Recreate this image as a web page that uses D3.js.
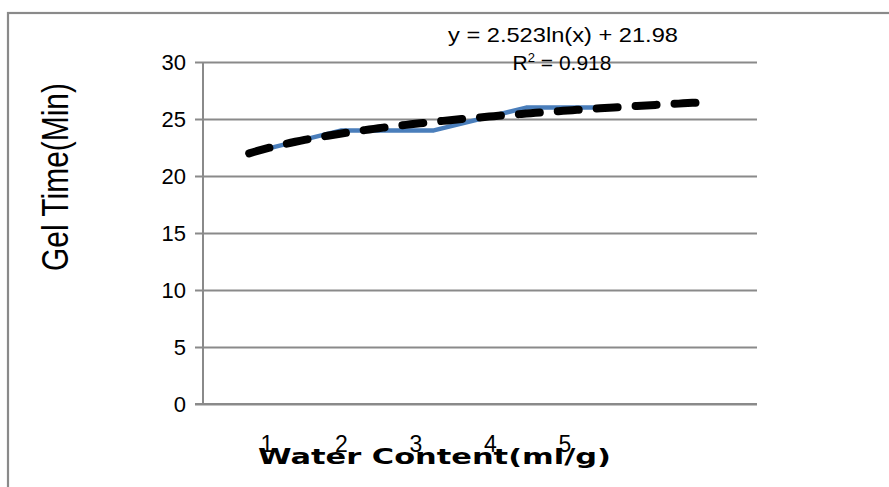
<!DOCTYPE html>
<html>
<head>
<meta charset="utf-8">
<script src="https://cdn.jsdelivr.net/npm/d3@7"></script>
<style>
  html, body { margin: 0; padding: 0; background: #fff; }
  svg { display: block; }
</style>
</head>
<body>
<svg id="chart" width="889" height="487"></svg>
<script>
// Gel time measured at each water content step
const categories = [1, 2, 3, 4, 5];
const gelTime = [22, 24, 24, 26, 26];
// Logarithmic trend line y = a ln(x) + b, forecast one step forward
const trendSlope = [2.523];
const trendIntercept = [21.98];
const trendR2 = [0.918];
const trendForward = 1;
const yTicks = [0, 5, 10, 15, 20, 25, 30];
const xTickLabels = ["1", "2", "3", "4", "5"];

const svg = d3.select("#chart");
const W = 889, H = 487;
const plot = { left: 203, right: 757, top: 62, bottom: 404 };
const gridColor = "#8a8a8a";
const font = "'Liberation Sans', Arial, sans-serif";

// outer chart frame (runs past the bottom/right edge)
svg.append("rect")
  .attr("x", 8).attr("y", 13)
  .attr("width", W + 20).attr("height", H + 20)
  .attr("fill", "none").attr("stroke", gridColor).attr("stroke-width", 2.2);

const nBands = categories.length + trendForward;
const x = d3.scaleBand()
  .domain(d3.range(1, nBands + 1))
  .range([plot.left, plot.right]);
const xc = v => x(v) + x.bandwidth() / 2;
const xCont = d3.scaleLinear().domain([1, nBands]).range([xc(1), xc(nBands)]);

const y = d3.scaleLinear().domain([0, 30]).range([plot.bottom, plot.top]);

// horizontal gridlines and y axis
const yAxis = d3.axisLeft(y).tickValues(yTicks).tickSize(-(plot.right - plot.left)).tickPadding(17);
const gy = svg.append("g").attr("transform", `translate(${plot.left},0)`).call(yAxis);
gy.select(".domain").remove();
gy.selectAll(".tick line")
  .attr("x1", -8)
  .attr("stroke", gridColor).attr("stroke-width", 2);
gy.selectAll(".tick text")
  .attr("font-family", font).attr("font-size", 22).attr("fill", "#000")
  .attr("dy", "0.36em");

// axis lines
svg.append("line")
  .attr("x1", plot.left).attr("x2", plot.left)
  .attr("y1", plot.top).attr("y2", plot.bottom)
  .attr("stroke", gridColor).attr("stroke-width", 2);
svg.append("line")
  .attr("x1", plot.left - 8).attr("x2", plot.right)
  .attr("y1", plot.bottom).attr("y2", plot.bottom)
  .attr("stroke", gridColor).attr("stroke-width", 2.2);

// data series
const line = d3.line().x((d, i) => xc(categories[i])).y(d => y(d));
svg.append("path")
  .datum(gelTime)
  .attr("d", line)
  .attr("fill", "none").attr("stroke", "#4a7ebb").attr("stroke-width", 4.5)
  .attr("stroke-linejoin", "round");

// logarithmic trend line
const trendFn = v => trendSlope[0] * Math.log(v) + trendIntercept[0];
const trendPts = d3.range(0, 101).map(i => 1 + (nBands - 1) * i / 100);
svg.append("path")
  .datum(trendPts)
  .attr("d", d3.line().x(v => xCont(v)).y(v => y(trendFn(v))))
  .attr("fill", "none").attr("stroke", "#000").attr("stroke-width", 8)
  .attr("stroke-linecap", "round")
  .attr("stroke-dasharray", "21,18");

// trend equation label
svg.append("text")
  .attr("x", 563).attr("y", 42)
  .attr("text-anchor", "middle")
  .attr("font-family", font).attr("font-size", 21)
  .attr("textLength", 230).attr("lengthAdjust", "spacingAndGlyphs")
  .text(`y = ${trendSlope[0]}ln(x) + ${trendIntercept[0]}`);
const r2 = svg.append("text")
  .attr("x", 562).attr("y", 70)
  .attr("text-anchor", "middle")
  .attr("font-family", font).attr("font-size", 21);
r2.append("tspan").text("R");
r2.append("tspan").attr("font-size", 13).attr("dy", -8).text("2");
r2.append("tspan").attr("dy", 8).text(` = ${trendR2[0]}`);

// category labels, set in the axis title row
const xl = d3.scalePoint().domain(xTickLabels).range([267, 565]);
svg.append("g").selectAll("text")
  .data(xTickLabels)
  .join("text")
  .attr("x", d => xl(d)).attr("y", 452)
  .attr("text-anchor", "middle")
  .attr("font-family", font).attr("font-size", 23)
  .text(d => d);

// axis titles
svg.append("text")
  .attr("x", 258).attr("y", 464)
  .attr("font-family", "'DejaVu Sans', sans-serif").attr("font-weight", "bold")
  .attr("font-size", 21)
  .attr("textLength", 353).attr("lengthAdjust", "spacingAndGlyphs")
  .text("Water Content(ml/g)");

svg.append("text")
  .attr("transform", "translate(68,177) rotate(-90)")
  .attr("text-anchor", "middle")
  .attr("font-family", "'Liberation Sans Narrow', 'Liberation Sans', sans-serif")
  .attr("font-size", 36)
  .attr("textLength", 188).attr("lengthAdjust", "spacingAndGlyphs")
  .text("Gel Time(Min)");
</script>
</body>
</html>
